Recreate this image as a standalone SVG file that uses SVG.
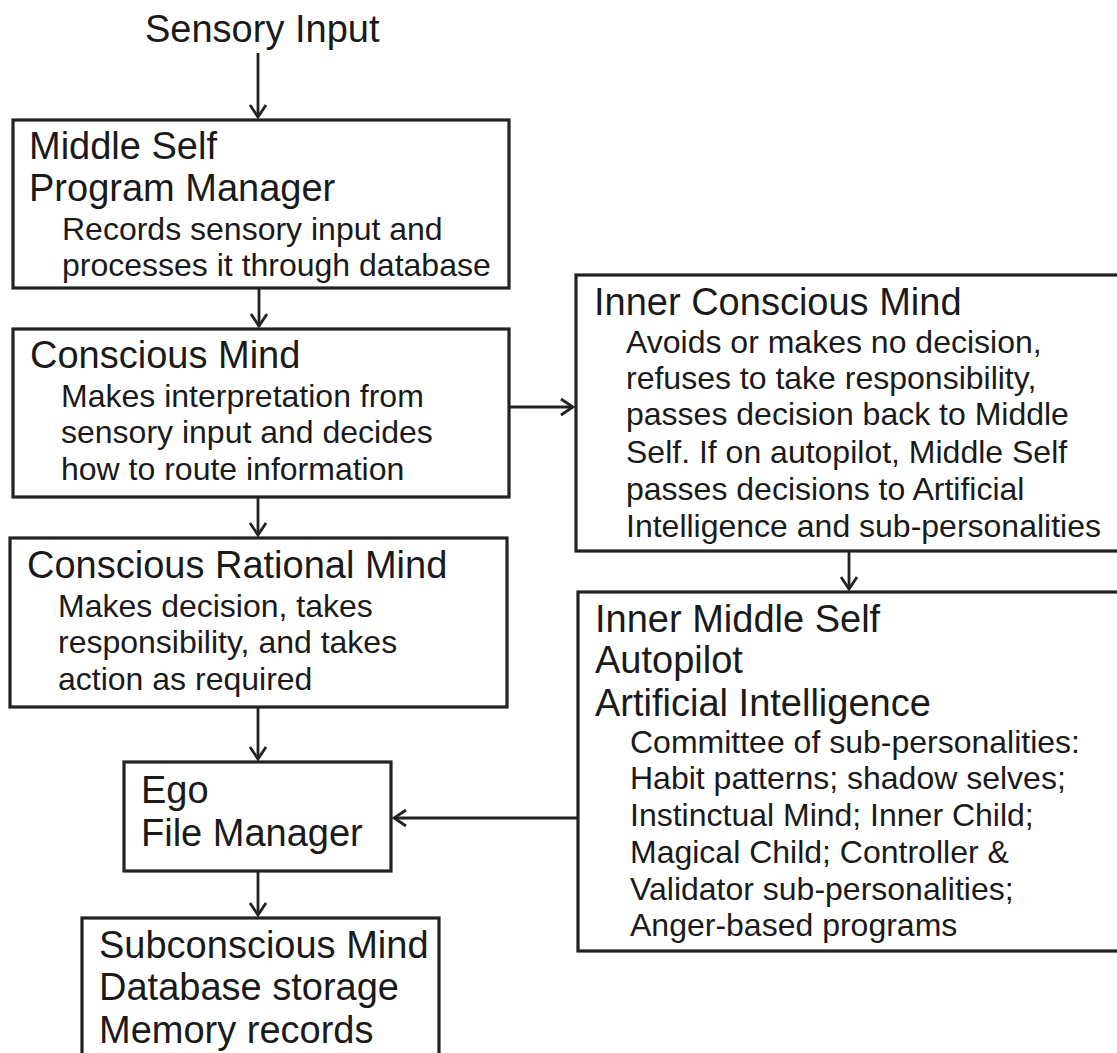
<svg xmlns="http://www.w3.org/2000/svg" width="1117" height="1053" viewBox="0 0 1117 1053">
<defs>
<style>
.box{fill:#fff;stroke:#222;stroke-width:3.2}
.t{font-family:"Liberation Sans",Arial,sans-serif;font-size:38px;fill:#1a1a1a}
.d{font-family:"Liberation Sans",Arial,sans-serif;font-size:32px;fill:#1a1a1a}
.c{fill:none;stroke:#222;stroke-width:2.8}
</style>
<marker id="ah" markerUnits="userSpaceOnUse" viewBox="-16 -10 18 20" refX="0" refY="0" markerWidth="18" markerHeight="20" orient="auto">
<path d="M-12,-8 L0,0 L-12,8" fill="none" stroke="#222" stroke-width="2.8"/>
</marker>
</defs>
<rect width="1117" height="1053" fill="#fff"/>

<g id="sensory-input">
<text class="t" x="145" y="42">Sensory Input</text>
</g>

<g id="middle-self">
<rect class="box" x="13" y="120" width="496" height="168"/>
<text class="t" x="29" y="159">Middle Self</text>
<text class="t" x="29" y="201">Program Manager</text>
<text class="d" x="62" y="240">Records sensory input and</text>
<text class="d" x="62" y="276">processes it through database</text>
</g>

<g id="conscious-mind">
<rect class="box" x="13" y="329" width="496" height="168"/>
<text class="t" x="30" y="368">Conscious Mind</text>
<text class="d" x="61" y="407">Makes interpretation from</text>
<text class="d" x="61" y="443">sensory input and decides</text>
<text class="d" x="61" y="480">how to route information</text>
</g>

<g id="conscious-rational-mind">
<rect class="box" x="10" y="538" width="497" height="169"/>
<text class="t" x="27" y="578">Conscious Rational Mind</text>
<text class="d" x="58" y="617">Makes decision, takes</text>
<text class="d" x="58" y="653">responsibility, and takes</text>
<text class="d" x="58" y="690">action as required</text>
</g>

<g id="ego">
<rect class="box" x="124" y="762" width="267" height="109"/>
<text class="t" x="141" y="803">Ego</text>
<text class="t" x="141" y="846">File Manager</text>
</g>

<g id="subconscious-mind">
<rect class="box" x="82" y="918" width="357" height="150"/>
<text class="t" x="99" y="958">Subconscious Mind</text>
<text class="t" x="99" y="1000">Database storage</text>
<text class="t" x="99" y="1043">Memory records</text>
</g>

<g id="inner-conscious-mind">
<rect class="box" x="576" y="275" width="560" height="276"/>
<text class="t" x="594" y="315">Inner Conscious Mind</text>
<text class="d" x="626" y="353">Avoids or makes no decision,</text>
<text class="d" x="626" y="389">refuses to take responsibility,</text>
<text class="d" x="626" y="425">passes decision back to Middle</text>
<text class="d" x="626" y="463">Self. If on autopilot, Middle Self</text>
<text class="d" x="626" y="500">passes decisions to Artificial</text>
<text class="d" x="626" y="537">Intelligence and sub-personalities</text>
</g>

<g id="inner-middle-self">
<rect class="box" x="578" y="592" width="560" height="359"/>
<text class="t" x="595" y="632">Inner Middle Self</text>
<text class="t" x="595" y="673">Autopilot</text>
<text class="t" x="595" y="716">Artificial Intelligence</text>
<text class="d" x="630" y="753">Committee of sub-personalities:</text>
<text class="d" x="630" y="789">Habit patterns; shadow selves;</text>
<text class="d" x="630" y="826">Instinctual Mind; Inner Child;</text>
<text class="d" x="630" y="863">Magical Child; Controller &amp;</text>
<text class="d" x="630" y="900">Validator sub-personalities;</text>
<text class="d" x="630" y="936">Anger-based programs</text>
</g>

<g id="connectors">
<line class="c" x1="258" y1="53" x2="258" y2="117" marker-end="url(#ah)"/>
<line class="c" x1="259" y1="289" x2="259" y2="326" marker-end="url(#ah)"/>
<line class="c" x1="258" y1="498" x2="258" y2="535" marker-end="url(#ah)"/>
<line class="c" x1="510" y1="407" x2="573" y2="407" marker-end="url(#ah)"/>
<line class="c" x1="849" y1="552" x2="849" y2="589" marker-end="url(#ah)"/>
<line class="c" x1="258" y1="708" x2="258" y2="759" marker-end="url(#ah)"/>
<line class="c" x1="577" y1="818" x2="394" y2="818" marker-end="url(#ah)"/>
<line class="c" x1="258" y1="872" x2="258" y2="915" marker-end="url(#ah)"/>
</g>
</svg>
